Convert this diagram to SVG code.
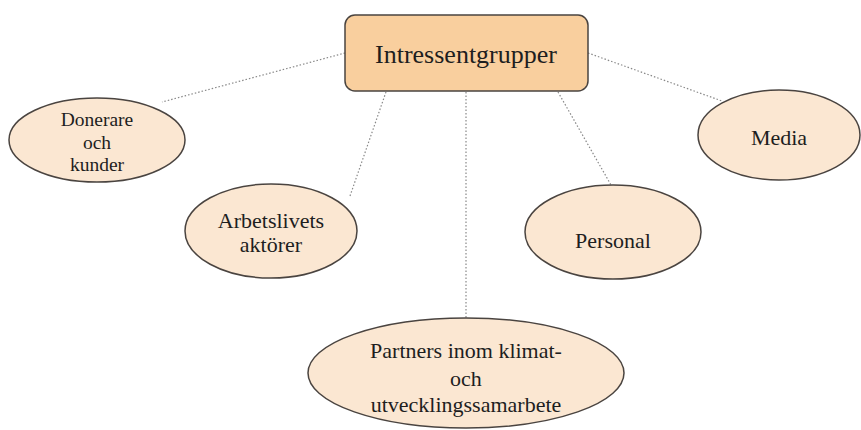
<svg xmlns="http://www.w3.org/2000/svg" width="861" height="430" viewBox="0 0 861 430">
<style>
.n{fill:#fbe7d2;stroke:#4a4440;stroke-width:1.5}
.c{fill:#f9cf9e;stroke:#4a4440;stroke-width:1.5}
.t{font-family:"Liberation Serif","Times New Roman",serif;font-size:22px;fill:#1e1e1e;text-anchor:middle}
.s{font-size:19.5px}
.tt{font-family:"Liberation Serif","Times New Roman",serif;font-size:26px;fill:#1e1e1e;text-anchor:middle}
.e{stroke:#888;stroke-width:1.2;stroke-dasharray:1.5 2;fill:none}
</style>
<rect width="861" height="430" fill="#fff"/>
<g id="connectors">
<line class="e" x1="345" y1="53" x2="162" y2="102"/>
<line class="e" x1="386" y1="92" x2="350" y2="196"/>
<line class="e" x1="466" y1="92" x2="466" y2="318"/>
<line class="e" x1="558" y1="92" x2="611" y2="185"/>
<line class="e" x1="588" y1="53" x2="722" y2="101"/>
</g>
<g id="center">
<rect class="c" x="345" y="15" width="243" height="76" rx="10"/>
<text class="tt" x="466" y="63">Intressentgrupper</text>
</g>
<g id="donerare">
<ellipse class="n" cx="97" cy="140" rx="88" ry="42"/>
<text class="t s" x="97" y="126">Donerare</text>
<text class="t s" x="97" y="148.5">och</text>
<text class="t s" x="97" y="171">kunder</text>
</g>
<g id="arbetslivets">
<ellipse class="n" cx="271" cy="231" rx="86" ry="47"/>
<text class="t" x="271" y="228">Arbetslivets</text>
<text class="t" x="271" y="252">aktörer</text>
</g>
<g id="partners">
<ellipse class="n" cx="466" cy="373" rx="158" ry="55"/>
<text class="t" x="466" y="358">Partners inom klimat-</text>
<text class="t" x="466" y="386">och</text>
<text class="t" x="466" y="412">utvecklingssamarbete</text>
</g>
<g id="personal">
<ellipse class="n" cx="613" cy="232" rx="88" ry="47"/>
<text class="t" x="613" y="248">Personal</text>
</g>
<g id="media">
<ellipse class="n" cx="779" cy="135" rx="81" ry="45"/>
<text class="t" x="779" y="145">Media</text>
</g>
</svg>
